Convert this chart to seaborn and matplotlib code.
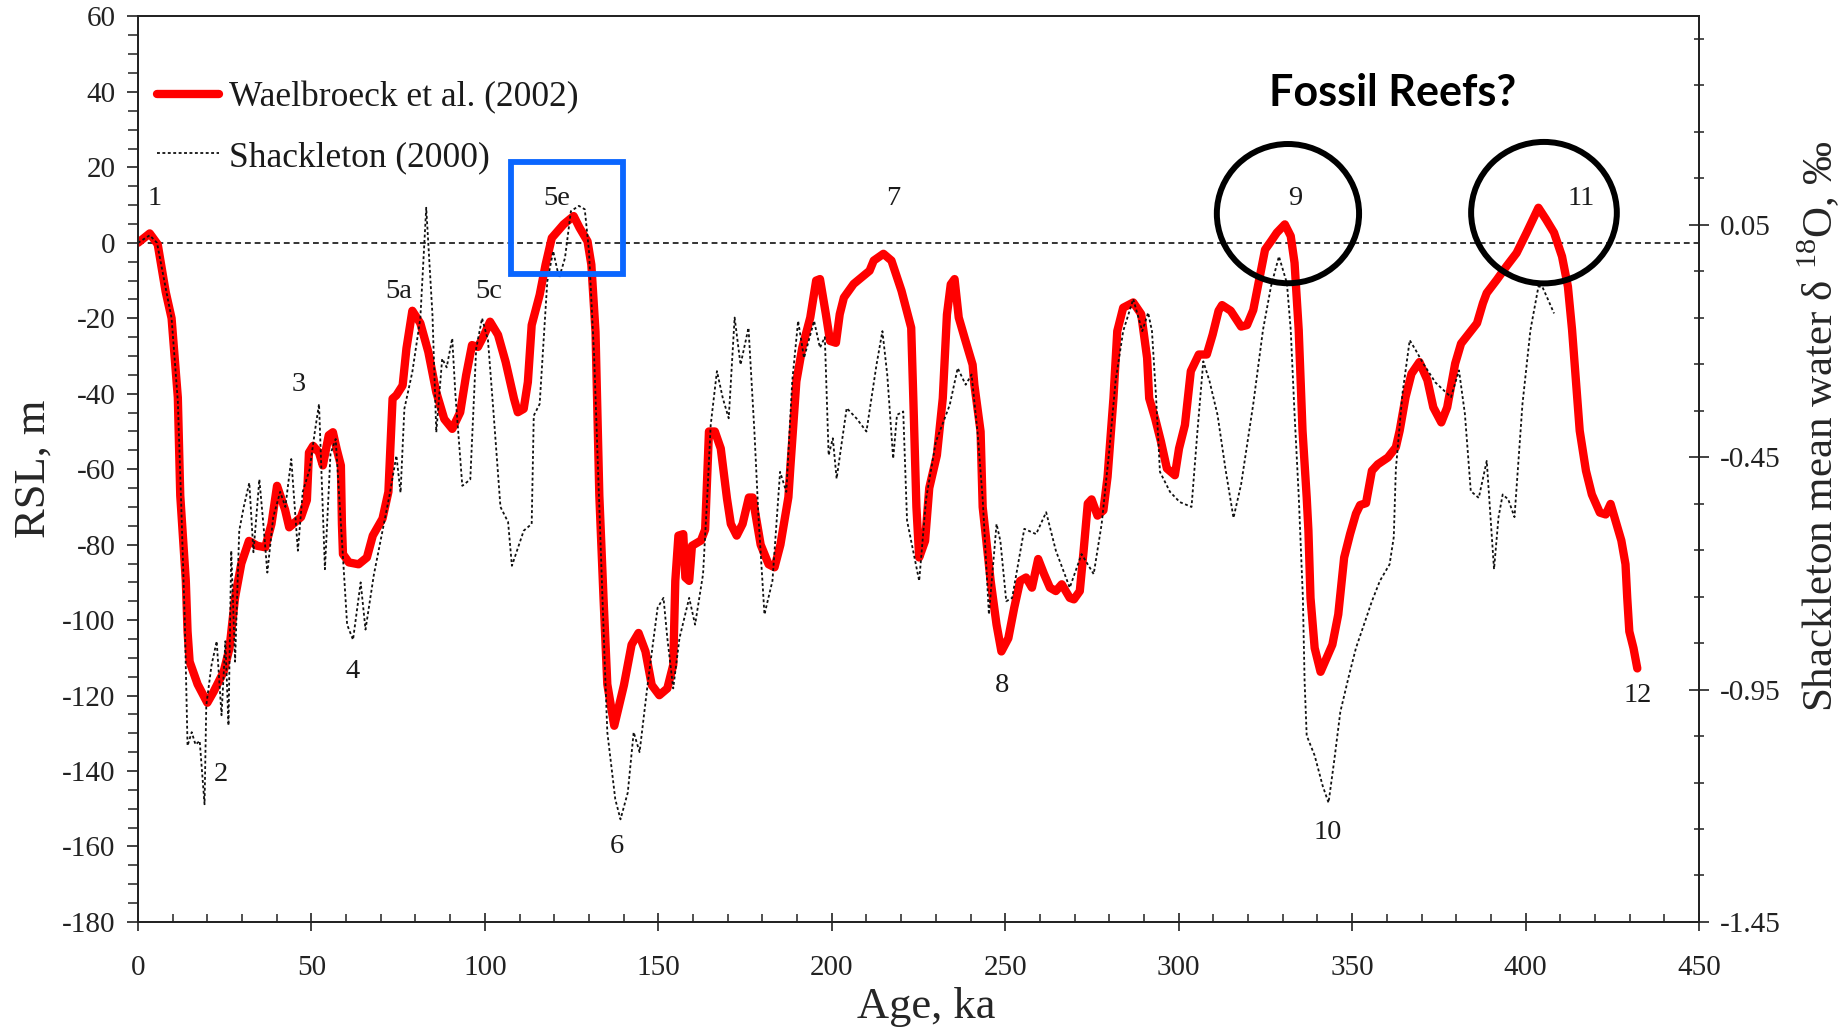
import numpy as np
import pandas as pd
import matplotlib
matplotlib.use("Agg")
import matplotlib.pyplot as plt
import seaborn as sns
from matplotlib.patches import Rectangle, Ellipse
from matplotlib.ticker import MultipleLocator, FixedLocator

# ---------------- data ----------------
waelbroeck_age = [0, 3.4, 5.7, 8, 9.7, 11.5, 12.2, 13.8, 14.3, 14.9, 17.2, 20, 21.8, 24.7, 26.4, 28, 29.8,
                  32, 34.4, 36.7, 38.5, 40.1, 42.4, 43.6, 47, 48.7, 49.3, 50.5, 52.2, 53.3, 55, 56.2, 57.3,
                  58.5, 58.8, 59.1, 60.8, 63.6, 66, 67.7, 70.5, 72.2, 73.4, 74.5, 76.3, 77.4, 79.1, 81.4,
                  83.7, 86, 88.3, 90.6, 92.9, 94.6, 96.3, 98, 99.8, 101.5, 103.8, 106, 108.4, 109.5, 111.2,
                  112.4, 113.5, 115.8, 117.5, 119.3, 122.7, 125.6, 127.3, 129.6, 130.7, 131.9, 133, 134.2,
                  135.3, 137.3, 140.1, 142.3, 144.3, 146.3, 148.1, 150.3, 152.6, 154.3, 154.9, 155.8, 157.2,
                  157.8, 158.9, 159.7, 162.3, 163.5, 164.6, 166.3, 168, 169.8, 170.9, 172.6, 174.3, 176.1,
                  177.2, 179.5, 181.8, 183.5, 185.2, 187.5, 188.1, 189.8, 191.5, 193.8, 195.5, 196.6, 198.3,
                  199.5, 201.2, 202.3, 203.5, 206.3, 210.9, 212.1, 214.9, 217.2, 220.1, 222.9, 223.5, 224.4,
                  225.2, 226.9, 228.1, 230.3, 232, 233.2, 234.3, 235.4, 236.6, 238.3, 240.6, 241.1, 242.9,
                  243.5, 245.8, 247.5, 248.9, 250.9, 252.6, 254.3, 256, 257.7, 259.5, 261.2, 262.9, 264.6,
                  266.3, 268.6, 269.8, 271.5, 272.6, 273.8, 274.9, 276.6, 278.3, 279.5, 281.2, 282.3, 284,
                  286.9, 289.2, 290.9, 291.5, 293.2, 294.9, 296.6, 298.9, 300.1, 301.8, 303.5, 305.8, 308.1,
                  309.8, 311.5, 312.5, 315, 318, 319.7, 321.5, 323.2, 324.9, 326.6, 328.3, 330.6, 332.3,
                  333.4, 334.6, 335.7, 336.9, 337.4, 338, 339.2, 340.9, 342.6, 344.3, 346, 347.7, 349.4,
                  351.1, 352.3, 354, 355.7, 357.4, 360.3, 362.6, 363.7, 365.4, 367.1, 369.4, 371.7, 373.4,
                  375.7, 377.4, 379.7, 381.4, 383.7, 386, 387.7, 388.8, 391.7, 394.5, 397.4, 400.3, 403.7,
                  405.9, 408.2, 410.5, 412.2, 413.4, 414.5, 415.6, 417.4, 419.1, 421.4, 423.1, 424.5, 425.9,
                  427.6, 428.8, 429.3, 429.9, 431.1, 432.2]
waelbroeck_rsl = [0, 2.5, -0.4, -13, -20, -41, -67, -89.6, -103, -111, -117, -121.9, -119, -113.7, -107.4, -94,
                  -85, -79, -80.3, -80.7, -74.5, -64.4, -70.7, -75.4, -72.7, -68.2, -55.6, -53.8, -55.6, -59,
                  -51, -50.2, -54.7, -59, -74.5, -82.5, -84.7, -85.2, -83.4, -77.6, -73.1, -66, -41.3, -40.4,
                  -37.8, -28, -18, -21.3, -28.9, -39.6, -46.7, -49.3, -44.9, -35.1, -27.1, -27.6, -24.4, -20.9,
                  -24.4, -31.6, -41.3, -44.9, -44, -36.9, -21.8, -13.8, -5.8, 1.3, 4.9, 7.1, 4, 0.4, -5.8,
                  -23.6, -67, -94, -117, -128, -117.2, -106.5, -103.4, -108.3, -117.2, -119.9, -118.1, -111.9,
                  -89.6, -77.6, -77.2, -88.7, -89.6, -80.3, -78.9, -76, -50, -50, -54.5, -67.8, -74.5, -77.6,
                  -74.5, -67.5, -67.5, -80, -85.2, -86, -80, -67.4, -59, -36.7, -27.8, -19.8, -10, -9.6, -18.9,
                  -26, -26.5, -18.9, -14.5, -10.9, -7.4, -4.7, -2.9, -4.7, -12.7, -22.5, -41, -70, -83.4, -79,
                  -65, -56.3, -41.2, -19, -11, -9.6, -19.8, -25.2, -32.3, -37.6, -50, -70, -89.6, -101.2,
                  -108.3, -104.8, -96.7, -89.6, -88.7, -91.4, -83.8, -87.8, -91.4, -92.3, -90.5, -94.1, -94.5,
                  -92.3, -81.6, -69.1, -68, -72.3, -70.9, -62, -41.2, -23.4, -17.2, -15.8, -18.9, -30.5, -41.2,
                  -46.5, -52.7, -59.8, -61.6, -54.5, -48.3, -34, -29.6, -29.6, -24.3, -18, -16.5, -18, -22.2,
                  -21.8, -17.8, -9.8, -1.8, 0.4, 2.7, 4.9, 1.8, -5.3, -23.1, -49.8, -67.4, -76.3, -94.1,
                  -107.4, -113.7, -110.1, -106.5, -98.5, -83.4, -77.2, -71.8, -69.5, -69, -60.4, -58.7, -56.9,
                  -54.2, -49.8, -40.9, -34.7, -31.6, -36.4, -43.6, -47.6, -43.6, -32, -26.7, -24, -21.3, -16,
                  -13.3, -9.8, -6.2, -2.7, 2.7, 9.3, 6.2, 2.7, -3.6, -11.6, -23.1, -36.4, -49.8, -60.4, -66.7,
                  -71.5, -72, -69.2, -73.6, -78.9, -85.2, -94.1, -103, -107.4, -112.8]

shackleton_age = [0, 3.4, 5.5, 8, 9.7, 11.5, 12.5, 13.5, 14.3, 15.5, 16.6, 17.8, 19.2, 19.7, 21.2, 22.7, 24.1,
                  25.2, 26.1, 26.9, 28, 29.2, 30.5, 32.1, 33.3, 35, 36.2, 37.3, 39, 41, 42.5, 44.2, 46.1,
                  47.5, 49.5, 51, 52.2, 53.9, 55.5, 57, 58.5, 60.3, 62, 64.2, 65.6, 68, 70.5, 72.5, 74.5,
                  75.7, 76.8, 79.1, 81.4, 83.1, 84.9, 86, 87.7, 89, 90.6, 91.5, 93.5, 95.8, 97.5, 99.2,
                  100.9, 102.5, 104.5, 106.7, 107.8, 111.2, 113.5, 114.1, 115.8, 117, 118, 119.7, 121.4,
                  123.1, 124.8, 127.1, 128.8, 130, 131.5, 133, 134.5, 135.3, 137.6, 139.1, 141.2, 142.9,
                  144.6, 146.9, 149.8, 151.5, 152.6, 154.3, 156.1, 158.9, 160.6, 162.9, 164.1, 165.1, 166.9,
                  168.6, 170.3, 172, 173.7, 176, 177.7, 178.9, 180.6, 182.9, 184, 185.1, 186.9, 188.6, 190.3,
                  192, 194.9, 196.6, 198, 199.1, 200.3, 201.4, 204.3, 207.1, 210, 212.9, 214.6, 216, 217.7,
                  218.8, 220.6, 221.7, 225.2, 227.2, 230, 231.8, 234, 236.3, 238.6, 240.3, 242, 243.5, 245.3,
                  247.5, 248.6, 250.3, 252, 255.5, 258.9, 261.8, 264.6, 268.6, 272, 275.5, 277.8, 280, 281.8,
                  284, 286.9, 289.5, 291.2, 292.3, 293.5, 294.6, 297.5, 300.3, 303.7, 305.4, 307.1, 308.9,
                  311.2, 313.5, 315.8, 318, 321.5, 324.3, 326.6, 328.9, 331.2, 332.3, 333.4, 334.6, 335.8,
                  336.3, 336.9, 339.2, 341.5, 343.2, 344.9, 346.6, 348.9, 351.1, 353.4, 355.7, 358, 360.8,
                  362, 362.6, 364.5, 366.6, 368.3, 370.5, 374, 378.5, 380.8, 382.5, 384.2, 386.5, 388.8,
                  390.9, 392.2, 393.4, 395, 396.8, 399.1, 401.4, 403.7, 404.8, 406.5, 408.2]
shackleton_rsl = [0, 2, 0, -12, -20, -42, -70, -100, -133.3, -129.7, -133, -132, -148.8, -122.6, -112, -105.6,
                  -125.2, -105.6, -127.9, -81.6, -111, -76.3, -70, -63.6, -82, -62.7, -75, -87.4, -72.7, -66,
                  -70, -57.3, -81.6, -66, -60, -50, -42.7, -86.5, -56, -52, -74.5, -101.2, -105.2, -90, -102.5,
                  -88, -76.3, -67, -56.4, -66.2, -44, -34.2, -20, 9.3, -19.1, -50.2, -30.7, -33, -25.3, -40,
                  -64.4, -62.7, -28, -20, -25.8, -45, -70, -74, -85.6, -76.3, -74.5, -45.8, -42.7, -25, -10.2,
                  -2.2, -9.3, -4, 8.4, 9.8, 8.9, -2, -30, -70, -110, -129.7, -147.5, -152.8, -145.7, -129.7,
                  -135, -117.2, -96.7, -94.1, -104.8, -118.1, -104.8, -94.1, -101.2, -87.8, -67.4, -48.3, -34,
                  -41.2, -46.5, -19.8, -32.3, -22.5, -50, -73, -98.5, -89.6, -75, -60.7, -66, -36.7, -20.7,
                  -30.5, -20.7, -27.8, -25, -56.3, -51.8, -62.5, -43.8, -46.5, -50, -32.3, -23.4, -35, -57.2,
                  -45.6, -44.7, -73.6, -89.6, -67.8, -52.7, -48.3, -43, -33.2, -37.6, -34.9, -50, -67.8, -98.5,
                  -74.5, -79, -95, -94.1, -75.8, -77.2, -71.4, -81.6, -91.4, -82.5, -87.8, -74.5, -55, -36.7,
                  -23.4, -14.9, -23.4, -18.5, -23.4, -41.2, -60.7, -66, -68.7, -70, -50, -31.4, -36.7, -45.6,
                  -60, -72.9, -64, -42.7, -23.1, -11.6, -3.6, -10.7, -23.1, -45.3, -67, -94, -116.3, -130.6,
                  -135.9, -143.9, -148.4, -136.8, -124.3, -115.4, -107.4, -101.2, -95, -89.6, -85.2, -78, -60,
                  -40, -25.8, -28.4, -32, -37, -40.9, -33.8, -45.3, -65.8, -67.6, -57.8, -86.5, -72.7, -66.7,
                  -68, -72.7, -42.7, -23.1, -11.6, -11.6, -15.1, -18.7]

stage_labels = ["1", "2", "3", "4", "5a", "5c", "5e", "6", "7", "8", "9", "10", "11", "12"]
stage_age = [4.8, 23.8, 46.3, 61.9, 75.2, 101.0, 120.7, 138.1, 217.7, 249.0, 333.7, 342.9, 416.0, 432.3]
stage_rsl = [11.7, -141.0, -37.5, -113.6, -12.9, -12.9, 11.7, -160.0, 11.7, -117.4, 11.7, -156.4, 11.7, -120.0]

x_ticks = [0, 50, 100, 150, 200, 250, 300, 350, 400, 450]
y_ticks = [-180, -160, -140, -120, -100, -80, -60, -40, -20, 0, 20, 40, 60]
right_ticks = [-1.45, -0.95, -0.45, 0.05]
right_tick_labels = ["-1.45", "-0.95", "-0.45", "0.05"]

wael = pd.DataFrame({"age": waelbroeck_age, "rsl": waelbroeck_rsl})
shack = pd.DataFrame({"age": shackleton_age, "rsl": shackleton_rsl})

# ---------------- style ----------------
sns.set_theme(style="white")
plt.rcParams["font.family"] = ["Liberation Serif", "DejaVu Serif"]
plt.rcParams["axes.unicode_minus"] = False
plt.rcParams["mathtext.fontset"] = "custom"
plt.rcParams["mathtext.rm"] = "Liberation Serif"
plt.rcParams["text.color"] = "#1a1a1a"

TICK_FS = 21

fig = plt.figure(figsize=(18.49, 10.30), dpi=100)
ax = fig.add_axes([0.0746, 0.1049, 0.9189 - 0.0746, 0.984 - 0.1049])

ax.axhline(0, color="#333333", lw=1.4, ls=(0, (3, 2)), zorder=1)

sns.lineplot(data=wael, x="age", y="rsl", ax=ax, color="#ff0000", lw=6, estimator=None,
             sort=False, label="Waelbroeck et al. (2002)", zorder=3,
             solid_joinstyle="round", solid_capstyle="round")
sns.lineplot(data=shack, x="age", y="rsl", ax=ax, color="#111111", lw=1.3, estimator=None,
             sort=False, label="Shackleton (2000)", zorder=4, ls=(0, (1.6, 1.4)))

ax.set_xlim(0, 450)
ax.set_ylim(-180, 60)
ax.xaxis.set_major_locator(FixedLocator(x_ticks))
ax.xaxis.set_minor_locator(MultipleLocator(10))
ax.yaxis.set_major_locator(FixedLocator(y_ticks))
ax.yaxis.set_minor_locator(MultipleLocator(5))

for sp in ax.spines.values():
    sp.set_color("#222222")
    sp.set_linewidth(1.3)

ax.tick_params(axis="x", which="major", direction="inout", length=13, width=1.2, pad=17,
               labelsize=TICK_FS, colors="#222222", bottom=True, top=False)
ax.tick_params(axis="x", which="minor", direction="in", length=6, width=1.1, bottom=True, top=False,
               color="#222222")
ax.tick_params(axis="y", which="major", direction="out", length=8, width=1.2, pad=8,
               labelsize=TICK_FS, colors="#222222", left=True, right=False)
ax.tick_params(axis="y", which="minor", direction="out", length=7, width=1.1, left=True, right=False,
               color="#222222")

ax.set_xlabel("Age, ka", fontsize=32, va="center")
ax.xaxis.set_label_coords(0.505, -0.094)
ax.set_ylabel("RSL, m", fontsize=32, va="center")
ax.yaxis.set_label_coords(-0.067, 0.5)

# right axis
ax2 = ax.twinx()
ax2.set_ylim(-1.45, -1.45 + 240 * 0.5 / 61.6)
ax2.yaxis.set_major_locator(FixedLocator(right_ticks))
ax2.set_yticklabels(right_tick_labels)
ax2.yaxis.set_minor_locator(MultipleLocator(0.1, offset=0.05))
ax2.tick_params(axis="y", which="major", direction="inout", length=14, width=1.2, pad=8,
                labelsize=TICK_FS, colors="#222222")
ax2.tick_params(axis="y", which="minor", direction="inout", length=7, width=1.1, color="#222222")
for sp in ax2.spines.values():
    sp.set_color("#222222")
    sp.set_linewidth(1.3)
ax2.set_ylabel("Shackleton mean water \u03b4 $^{\\mathrm{18}}$O, \u2030", fontsize=31, va="center")
ax2.yaxis.set_label_coords(1.077, 0.547)
ax2.grid(False)

# stage annotations
for lab, xa, ya in zip(stage_labels, stage_age, stage_rsl):
    ax.text(xa, ya, lab, fontsize=20.5, ha="center", va="center", color="#1a1a1a", zorder=5)

# highlight shapes
ax.add_patch(Rectangle((107.5, -8.2), 32.2, 29.6, fill=False, edgecolor="#0a66ff", lw=4.2, zorder=6))
ax.add_patch(Ellipse((331.5, 7.75), 41.0, 36.9, fill=False, edgecolor="black", lw=4.3, zorder=6))
ax.add_patch(Ellipse((405.3, 8.0), 42.0, 37.5, fill=False, edgecolor="black", lw=4.3, zorder=6))
ax.text(361.6, 39.7, "Fossil Reefs?", fontsize=31, fontweight="bold", family=["Lato", "DejaVu Sans"],
        ha="center", va="center", color="black", zorder=7)

leg = ax.legend(loc="upper left", bbox_to_anchor=(0.0122, 0.929), frameon=False, fontsize=25.5,
                handlelength=1.75, handletextpad=0.28, labelspacing=0.76, borderpad=0, borderaxespad=0)
for t in leg.get_texts():
    t.set_color("#1a1a1a")

fig.savefig("out.png", dpi=100)
